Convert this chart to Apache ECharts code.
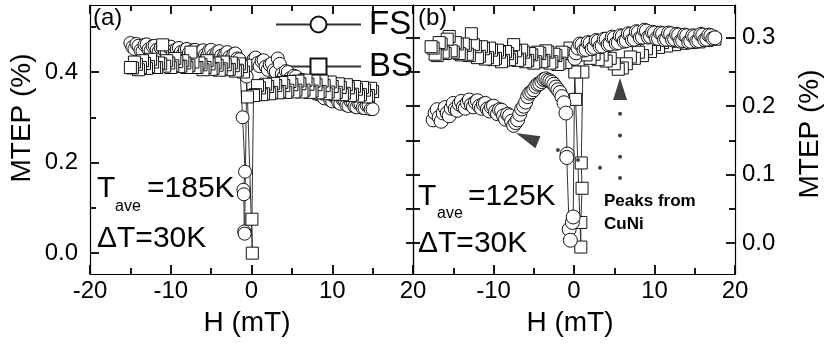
<!DOCTYPE html>
<html>
<head>
<meta charset="utf-8">
<title>MTEP vs H</title>
<script src="https://cdn.jsdelivr.net/npm/echarts@6/dist/echarts.min.js"></script>
<style>
  html, body { margin: 0; padding: 0; background: #fff; }
  #chart { width: 825px; height: 349px; }
</style>
</head>
<body>
<div id="chart"></div>
<script>
// ---- values, [H (mT), MTEP (%)] ----

// panel (a), T_ave = 185K : forward sweep (circles)
const fsA = [
  [-15, 0.464], [-14.75, 0.455], [-14.5, 0.451], [-14.25, 0.462], [-14, 0.458],
  [-13.75, 0.448], [-13.5, 0.446], [-13.25, 0.46], [-13, 0.461], [-12.75, 0.45],
  [-12.5, 0.447], [-12.25, 0.457], [-12, 0.458], [-11.75, 0.449], [-11.5, 0.445],
  [-11.25, 0.454], [-11, 0.456], [-10.75, 0.447], [-10.5, 0.444], [-10.25, 0.455],
  [-10, 0.456], [-9.75, 0.446], [-9.5, 0.442], [-9.25, 0.451], [-9, 0.453],
  [-8.75, 0.444], [-8.5, 0.44], [-8.25, 0.449], [-8, 0.451], [-7.75, 0.442],
  [-7.5, 0.439], [-7.25, 0.448], [-7, 0.449], [-6.75, 0.44], [-6.5, 0.437],
  [-6.25, 0.446], [-6, 0.448], [-5.75, 0.438], [-5.5, 0.436], [-5.25, 0.447],
  [-5, 0.449], [-4.75, 0.437], [-4.5, 0.434], [-4.25, 0.444], [-4, 0.446],
  [-3.75, 0.436], [-3.5, 0.432], [-3.25, 0.441], [-3, 0.444], [-2.75, 0.433],
  [-2.5, 0.43], [-2.25, 0.439], [-2, 0.441], [-1.75, 0.43], [-1.5, 0.428],
  [-1.1, 0.30], [-0.8, 0.18], [-1.0, 0.14], [-0.95, 0.13], [-0.9, 0.048],
  [-0.85, 0.043], [-0.6, 0.39], [0, 0.42],
  [0.25, 0.428], [0.5, 0.432], [0.75, 0.42], [1, 0.413], [1.25, 0.424],
  [1.5, 0.426], [1.75, 0.412], [2, 0.405], [2.25, 0.416], [2.5, 0.419],
  [2.75, 0.404], [3, 0.4], [3.25, 0.43], [3.5, 0.418], [3.75, 0.396],
  [4, 0.39], [4.25, 0.402], [4.5, 0.4], [4.75, 0.386], [5, 0.38],
  [5.25, 0.392], [5.5, 0.39], [5.75, 0.376], [6, 0.372], [6.25, 0.383],
  [6.5, 0.38], [6.75, 0.366], [7, 0.362], [7.25, 0.373], [7.5, 0.37],
  [7.75, 0.356], [8, 0.352], [8.25, 0.362], [8.5, 0.36], [8.75, 0.346],
  [9, 0.342], [9.25, 0.352], [9.5, 0.35], [9.75, 0.338], [10, 0.335],
  [10.25, 0.346], [10.5, 0.345], [10.75, 0.333], [11, 0.33], [11.25, 0.34],
  [11.5, 0.338], [11.75, 0.327], [12, 0.325], [12.25, 0.336], [12.5, 0.335],
  [12.75, 0.324], [13, 0.322], [13.25, 0.331], [13.5, 0.33], [13.75, 0.321],
  [14, 0.32], [14.25, 0.327], [14.5, 0.326], [14.75, 0.318], [15, 0.318]
];

// panel (a) : backward sweep (squares)
const bsA = [
  [15, 0.357], [14.75, 0.364], [14.5, 0.348], [14.25, 0.345], [14, 0.36],
  [13.75, 0.366], [13.5, 0.35], [13.25, 0.347], [13, 0.362], [12.75, 0.368],
  [12.5, 0.351], [12.25, 0.348], [12, 0.365], [11.75, 0.372], [11.5, 0.353],
  [11.25, 0.35], [11, 0.366], [10.75, 0.374], [10.5, 0.355], [10.25, 0.351],
  [10, 0.368], [9.75, 0.378], [9.5, 0.356], [9.25, 0.352], [9, 0.37],
  [8.75, 0.38], [8.5, 0.357], [8.25, 0.354], [8, 0.372], [7.75, 0.38],
  [7.5, 0.358], [7.25, 0.355], [7, 0.373], [6.75, 0.382], [6.5, 0.36],
  [6.25, 0.356], [6, 0.374], [5.75, 0.38], [5.5, 0.36], [5.25, 0.356],
  [5, 0.372], [4.75, 0.379], [4.5, 0.36], [4.25, 0.355], [4, 0.37],
  [3.75, 0.377], [3.5, 0.357], [3.25, 0.354], [3, 0.37], [2.75, 0.375],
  [2.5, 0.355], [2.25, 0.352], [2, 0.368], [1.75, 0.373], [1.5, 0.352],
  [1.25, 0.35], [1, 0.365], [0.75, 0.37], [0.5, 0.35], [0.25, 0.348],
  [0.05, 0.075], [0.1, 0.0], [-0.5, 0.345], [-0.7, 0.415],
  [-1, 0.40], [-1.25, 0.412], [-1.5, 0.418], [-1.75, 0.404], [-2, 0.402],
  [-2.25, 0.414], [-2.5, 0.42], [-2.75, 0.406], [-3, 0.405], [-3.25, 0.416],
  [-3.5, 0.422], [-3.75, 0.407], [-4, 0.404], [-4.25, 0.415], [-4.5, 0.42],
  [-4.75, 0.408], [-5, 0.406], [-5.25, 0.418], [-5.5, 0.425], [-5.75, 0.41],
  [-6, 0.405], [-6.25, 0.416], [-6.5, 0.42], [-6.75, 0.41], [-7, 0.41],
  [-7.25, 0.422], [-7.5, 0.444], [-7.75, 0.414], [-8, 0.41], [-8.25, 0.42],
  [-8.5, 0.425], [-8.75, 0.413], [-9, 0.412], [-9.25, 0.423], [-9.5, 0.43],
  [-9.75, 0.414], [-10, 0.41], [-10.25, 0.42], [-10.5, 0.425], [-10.75, 0.413],
  [-11, 0.46], [-11.25, 0.418], [-11.5, 0.42], [-11.75, 0.41], [-12, 0.41],
  [-12.25, 0.422], [-12.5, 0.428], [-12.75, 0.412], [-13, 0.408], [-13.25, 0.419],
  [-13.5, 0.425], [-13.75, 0.41], [-14, 0.405], [-14.25, 0.417], [-14.5, 0.422],
  [-14.75, 0.409], [-15, 0.41]
];

// panel (b), T_ave = 125K : forward sweep (circles)
const fsB = [
  [-17.5, 0.18], [-17.25, 0.19], [-17, 0.195], [-16.75, 0.184], [-16.5, 0.178],
  [-16.25, 0.19], [-16, 0.198], [-15.75, 0.19], [-15.5, 0.186], [-15.25, 0.197],
  [-15, 0.204], [-14.75, 0.196], [-14.5, 0.194], [-14.25, 0.203], [-14, 0.207],
  [-13.75, 0.199], [-13.5, 0.197], [-13.25, 0.205], [-13, 0.209], [-12.75, 0.202],
  [-12.5, 0.199], [-12.25, 0.206], [-12, 0.208], [-11.75, 0.2], [-11.5, 0.197],
  [-11.25, 0.203], [-11, 0.204], [-10.75, 0.196], [-10.5, 0.193], [-10.25, 0.199],
  [-10, 0.2], [-9.75, 0.192], [-9.5, 0.189], [-9.25, 0.195], [-9, 0.194],
  [-8.75, 0.186], [-8.5, 0.181], [-8.25, 0.188], [-8, 0.186], [-7.75, 0.178],
  [-7.5, 0.172], [-7.25, 0.176], [-7, 0.18], [-6.75, 0.188], [-6.5, 0.196],
  [-6.25, 0.2], [-6, 0.206], [-5.75, 0.214], [-5.5, 0.219], [-5.25, 0.221],
  [-5, 0.224], [-4.75, 0.229], [-4.5, 0.232], [-4.25, 0.233], [-4, 0.236],
  [-3.75, 0.239], [-3.5, 0.24], [-3.25, 0.238], [-3, 0.237], [-2.75, 0.235],
  [-2.5, 0.232], [-2.25, 0.228], [-2, 0.224], [-1.75, 0.22], [-1.5, 0.214],
  [-1.25, 0.205], [-1, 0.19],
  [-0.85, 0.13], [-0.9, 0.125], [-0.6, 0.02], [-0.45, 0.004], [-0.2, 0.03],
  [-0.1, 0.038], [0.1, 0.27],
  [0.25, 0.278], [0.5, 0.285], [0.75, 0.291], [1, 0.29], [1.25, 0.282],
  [1.5, 0.283], [1.75, 0.293], [2, 0.292], [2.25, 0.284], [2.5, 0.286],
  [2.75, 0.296], [3, 0.295], [3.25, 0.287], [3.5, 0.288], [3.75, 0.298],
  [4, 0.298], [4.25, 0.29], [4.5, 0.291], [4.75, 0.301], [5, 0.3],
  [5.25, 0.292], [5.5, 0.293], [5.75, 0.303], [6, 0.302], [6.25, 0.295],
  [6.5, 0.296], [6.75, 0.306], [7, 0.305], [7.25, 0.297], [7.5, 0.298],
  [7.75, 0.309], [8, 0.308], [8.25, 0.3], [8.5, 0.301], [8.75, 0.311],
  [9, 0.31], [9.25, 0.301], [9.5, 0.302], [9.75, 0.308], [10, 0.307],
  [10.25, 0.299], [10.5, 0.299], [10.75, 0.307], [11, 0.306], [11.25, 0.297],
  [11.5, 0.298], [11.75, 0.307], [12, 0.306], [12.25, 0.297], [12.5, 0.298],
  [12.75, 0.305], [13, 0.304], [13.25, 0.295], [13.5, 0.296], [13.75, 0.304],
  [14, 0.303], [14.25, 0.294], [14.5, 0.295], [14.75, 0.303], [15, 0.302],
  [15.25, 0.295], [15.5, 0.296], [15.75, 0.305], [16, 0.304], [16.25, 0.297],
  [16.5, 0.298], [16.75, 0.304], [17, 0.303], [17.25, 0.299], [17.5, 0.3]
];

// panel (b) : backward sweep (squares)
const bsB = [
  [17.5, 0.298], [17, 0.302], [16.5, 0.296], [16, 0.3], [15.5, 0.294],
  [15, 0.299], [14.5, 0.293], [14, 0.298], [13.5, 0.292], [13, 0.296],
  [12.5, 0.29], [12, 0.295], [11.5, 0.288], [11, 0.293], [10.5, 0.286],
  [10, 0.29], [9.5, 0.28], [9, 0.284], [8.5, 0.274], [8, 0.279],
  [7.5, 0.27], [7, 0.272], [6.5, 0.262], [6, 0.256], [5.5, 0.254],
  [5, 0.262], [4.5, 0.27], [4, 0.266], [3.5, 0.275], [3, 0.268],
  [2.5, 0.276], [2, 0.27], [1.5, 0.275],
  [1.1, 0.25], [0.9, 0.117], [1.0, 0.08], [0.85, 0.03], [0.85, -0.006],
  [0.2, 0.21], [0.1, 0.25], [-0.3, 0.275],
  [-0.5, 0.285], [-0.75, 0.268], [-1, 0.264], [-1.25, 0.277], [-1.5, 0.279],
  [-1.75, 0.263], [-2, 0.261], [-2.25, 0.274], [-2.5, 0.276], [-2.75, 0.265],
  [-3, 0.263], [-3.25, 0.279], [-3.5, 0.281], [-3.75, 0.267], [-4, 0.265],
  [-4.25, 0.277], [-4.5, 0.279], [-4.75, 0.265], [-5, 0.263], [-5.25, 0.275],
  [-5.5, 0.277], [-5.75, 0.267], [-6, 0.265], [-6.25, 0.279], [-6.5, 0.282],
  [-6.75, 0.269], [-7, 0.267], [-7.25, 0.281], [-7.5, 0.29], [-7.75, 0.271],
  [-8, 0.268], [-8.25, 0.277], [-8.5, 0.28], [-8.75, 0.267], [-9, 0.265],
  [-9.25, 0.279], [-9.5, 0.282], [-9.75, 0.27], [-10, 0.268], [-10.25, 0.282],
  [-10.5, 0.285], [-10.75, 0.271], [-11, 0.269], [-11.25, 0.284], [-11.5, 0.287],
  [-11.75, 0.273], [-12, 0.271], [-12.25, 0.287], [-12.5, 0.29], [-12.75, 0.306],
  [-13, 0.274], [-13.25, 0.276], [-13.5, 0.289], [-13.75, 0.291], [-14, 0.275],
  [-14.25, 0.277], [-14.5, 0.291], [-14.75, 0.293], [-15, 0.279], [-15.25, 0.281],
  [-15.5, 0.302], [-15.75, 0.298], [-16, 0.277], [-16.25, 0.279], [-16.5, 0.291],
  [-16.75, 0.293], [-17, 0.274], [-17.25, 0.276], [-17.5, 0.285], [-17.75, 0.287]
];

// "Peaks from CuNi" markers in panel (b)
const arrowUp = [5.72, 0.225];
const arrowLeft = [-5.85, 0.154];
const guideDots = [[5.72, 0.189], [5.72, 0.157], [5.72, 0.126], [5.72, 0.095],
  [-2.0, 0.136], [0.5, 0.1215], [3.23, 0.11]];

// axis ranges and tick values
const hRange = [-20, 20];
const yRangeA = [-0.046, 0.548];
const yRangeB = [-0.0454, 0.348];
const yLabelsA = [0, 0.2, 0.4];
const yMinorA = [0.1, 0.3, 0.5];
const yLabelsB = [0, 0.1, 0.2, 0.3];
const yMinorB = [0.05, 0.15, 0.25];
const yAllB = [0, 0.05, 0.1, 0.15, 0.2, 0.25, 0.3];

const FONT = '"Liberation Sans", Arial, Helvetica, sans-serif';
const INK = '#000';
const TICK_W = 1.8;

// x axes: bottom with labels, top as mirror
function hAxis(gridIndex, position, showLabel, showMin) {
  return {
    type: 'value',
    gridIndex,
    position,
    min: hRange[0],
    max: hRange[1],
    interval: 10,
    axisLine: { show: true, onZero: false, lineStyle: { color: INK, width: 1.2 } },
    axisTick: { show: true, inside: true, length: 9, lineStyle: { color: INK, width: TICK_W } },
    minorTick: { show: true, splitNumber: 2, length: 6, lineStyle: { color: INK, width: TICK_W } },
    axisLabel: {
      show: showLabel,
      showMinLabel: showMin,
      showMaxLabel: true,
      margin: 5,
      color: INK,
      fontSize: 24,
      fontFamily: FONT
    },
    splitLine: { show: false },
    minorSplitLine: { show: false }
  };
}

// y axes: labels / ticks are driven by custom value lists
function mAxis(gridIndex, position, range, ticks, tickLen, labels, lineShow) {
  return {
    type: 'value',
    gridIndex,
    position,
    min: range[0],
    max: range[1],
    axisLine: { show: lineShow, onZero: false, lineStyle: { color: INK, width: 1.2 } },
    axisTick: {
      show: true, inside: true, length: tickLen,
      customValues: ticks,
      lineStyle: { color: INK, width: TICK_W }
    },
    axisLabel: labels ? {
      show: true,
      customValues: labels,
      formatter: (v) => v.toFixed(1),
      margin: position === 'left' ? 12 : 7,
      color: INK,
      fontSize: 24,
      fontFamily: FONT
    } : { show: false },
    splitLine: { show: false }
  };
}

function sweep(name, xIdx, yIdx, data, symbol, size) {
  return {
    name,
    type: 'line',
    xAxisIndex: xIdx,
    yAxisIndex: yIdx,
    data,
    symbol,
    symbolSize: size,
    showAllSymbol: true,
    clip: true,
    animation: false,
    lineStyle: { color: '#333', width: 1 },
    itemStyle: { color: '#fff', borderColor: '#111', borderWidth: 1 },
    emphasis: { disabled: true }
  };
}

function label(text, x, y, size, extra) {
  return {
    type: 'text',
    x, y,
    silent: true,
    style: Object.assign({
      text,
      fill: INK,
      fontSize: size,
      fontFamily: FONT,
      verticalAlign: 'middle'
    }, extra || {})
  };
}

const chart = echarts.init(document.getElementById('chart'), null, { renderer: 'canvas' });

const option = {
  backgroundColor: '#fff',
  animation: false,
  grid: [
    { left: 90, top: 5, width: 323, height: 269 },
    { left: 413, top: 5, width: 322, height: 269 }
  ],
  xAxis: [
    hAxis(0, 'bottom', true, true),
    hAxis(0, 'top', false, true),
    hAxis(1, 'bottom', true, false),
    hAxis(1, 'top', false, false)
  ],
  yAxis: [
    mAxis(0, 'left', yRangeA, yLabelsA, 9, yLabelsA, true),   // 0
    mAxis(0, 'left', yRangeA, yMinorA, 6, null, false),       // 1
    mAxis(0, 'right', yRangeB, yAllB, 7, null, true),         // 2
    mAxis(1, 'left', yRangeB, yAllB, 7, null, true),          // 3
    mAxis(1, 'right', yRangeB, yLabelsB, 9, yLabelsB, true),  // 4
    mAxis(1, 'right', yRangeB, yMinorB, 6, null, false)       // 5
  ],
  legend: {
    data: ['FS', 'BS'],
    orient: 'vertical',
    left: 275,
    top: 8,
    padding: 0,
    z: 1,
    itemWidth: 85,
    itemHeight: 20,
    itemGap: 9,
    selectedMode: false,
    textStyle: { color: INK, fontSize: 33, lineHeight: 32, fontFamily: FONT, padding: [0, 0, 0, 3] }
  },
  series: [
    sweep('FS', 0, 0, fsA, 'circle', 13),
    sweep('BS', 0, 0, bsA, 'rect', 12),
    sweep('BS', 2, 4, bsB, 'rect', 12),
    sweep('FS', 2, 4, fsB, 'circle', 14),
    {
      type: 'scatter', xAxisIndex: 2, yAxisIndex: 4, silent: true, z: 4,
      symbol: 'triangle', symbolSize: [14, 22],
      itemStyle: { color: '#111' },
      data: [arrowUp]
    },
    {
      type: 'scatter', xAxisIndex: 2, yAxisIndex: 4, silent: true, z: 4,
      symbol: 'triangle', symbolSize: [13, 24], symbolRotate: 67,
      itemStyle: { color: '#111' },
      data: [arrowLeft]
    },
    {
      type: 'scatter', xAxisIndex: 2, yAxisIndex: 4, silent: true, z: 4,
      symbol: 'circle', symbolSize: 4,
      itemStyle: { color: '#111' },
      data: guideDots
    }
  ],
  graphic: [
    label('(a)', 93, 18, 24),
    label('(b)', 418, 18, 24),
    // panel (a) conditions
    label('T', 97, 189, 30),
    label('ave', 115, 207, 16),
    label('=185K', 147, 189, 30),
    label('\u0394T=30K', 97, 239, 30),
    // panel (b) conditions
    label('T', 418, 197, 30),
    label('ave', 437, 214, 16),
    label('=125K', 468, 197, 30),
    label('\u0394T=30K', 418, 244, 30),
    label('Peaks from', 604, 201, 17, { fontWeight: 'bold' }),
    label('CuNi', 604, 224, 17, { fontWeight: 'bold' }),
    // axis titles
    label('H (mT)', 247, 323, 28, { align: 'center' }),
    label('H (mT)', 570, 323, 28, { align: 'center' }),
    Object.assign(label('MTEP (%)', 22, 118, 28, { align: 'center' }), { rotation: Math.PI / 2 }),
    Object.assign(label('MTEP (%)', 810, 134, 28, { align: 'center' }), { rotation: Math.PI / 2 })
  ]
};

chart.setOption(option);
</script>
</body>
</html>
